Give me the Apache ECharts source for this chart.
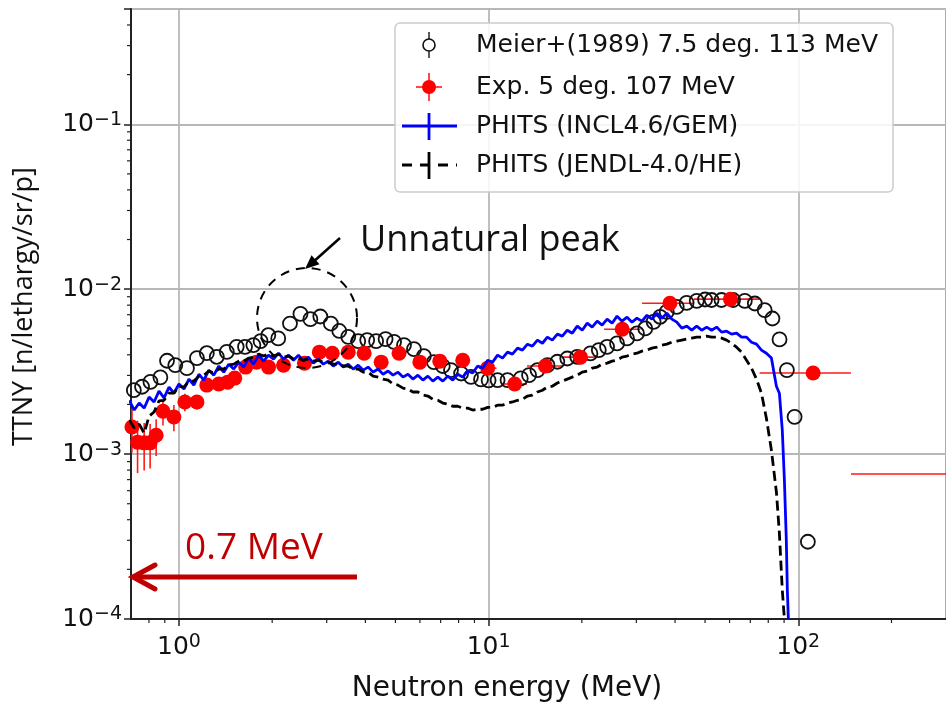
<!DOCTYPE html>
<html lang="en" style="height: 100%">
<head>
<meta charset="utf-8">
<title>TTNY neutron spectrum</title>
</head>
<body style="height: 100%; margin: 0; background: #fff">
<div id="container" style="width: 946px; height: 710px"></div>
<script type="text/javascript" src="https://cdn.jsdelivr.net/npm/echarts/dist/echarts.min.js"></script>
<script type="text/javascript">
// Meier+(1989) 7.5 deg, 113 MeV  (open circles)
var meierE = [0.715, 0.760, 0.809, 0.871, 0.915, 0.973, 1.061, 1.143, 1.230, 1.325, 1.427, 1.536, 1.634, 1.739, 1.835,
    1.943, 2.092, 2.283, 2.468, 2.657, 2.861, 3.093, 3.294, 3.522, 3.792, 4.054, 4.332, 4.648, 4.950, 5.33,
    5.74, 6.18, 6.66, 7.11, 7.56, 8.15, 8.77, 9.45, 10.0, 10.69, 11.51, 12.70, 13.51, 14.38, 15.49,
    16.67, 17.95, 19.32, 21.32, 22.69, 24.13, 25.99, 27.99, 30.14, 32.05, 34.1, 35.8, 37.6, 40.5, 43.6,
    47.0, 50.0, 52.5, 56.5, 61.6, 67.2, 72.4, 77.9, 82.5, 87.0, 91.9, 97.3, 107.4];
var meierV = [2.44e-3, 2.56e-3, 2.74e-3, 2.92e-3, 3.68e-3, 3.46e-3, 3.32e-3, 3.82e-3, 4.09e-3, 3.89e-3, 4.17e-3, 4.47e-3, 4.47e-3, 4.58e-3, 4.84e-3,
    5.26e-3, 5.03e-3, 6.19e-3, 7.08e-3, 6.58e-3, 6.83e-3, 6.19e-3, 5.58e-3, 5.14e-3, 4.84e-3, 4.91e-3, 4.84e-3, 4.98e-3, 4.79e-3, 4.58e-3,
    4.33e-3, 3.93e-3, 3.61e-3, 3.42e-3, 3.23e-3, 3.08e-3, 2.94e-3, 2.84e-3, 2.80e-3, 2.81e-3, 2.81e-3, 2.88e-3, 3.01e-3, 3.23e-3, 3.46e-3,
    3.63e-3, 3.80e-3, 3.89e-3, 4.08e-3, 4.27e-3, 4.47e-3, 4.69e-3, 5.03e-3, 5.39e-3, 5.78e-3, 6.34e-3, 6.80e-3, 7.28e-3, 7.81e-3, 8.26e-3,
    8.49e-3, 8.66e-3, 8.60e-3, 8.60e-3, 8.60e-3, 8.49e-3, 8.19e-3, 7.46e-3, 6.64e-3, 4.96e-3, 3.23e-3, 1.68e-3, 2.94e-4];

// Exp. 5 deg, 107 MeV  (red points, energy bin edges and relative error)
var expE = [0.705, 0.735, 0.772, 0.807, 0.844, 0.888, 0.963, 1.045, 1.143, 1.230, 1.345, 1.437, 1.514, 1.642, 1.781, 1.947, 2.176, 2.543,
    2.841, 3.127, 3.521, 3.963, 4.497, 5.137, 5.998, 6.955, 8.25, 9.93, 12.14, 15.25, 19.8, 27.0, 38.5, 60.4, 111.7, 310];
var expV = [1.46e-3, 1.18e-3, 1.17e-3, 1.17e-3, 1.30e-3, 1.82e-3, 1.68e-3, 2.07e-3, 2.07e-3, 2.62e-3, 2.66e-3, 2.73e-3, 2.89e-3, 3.37e-3, 3.61e-3, 3.37e-3, 3.46e-3, 3.56e-3,
    4.15e-3, 4.09e-3, 4.15e-3, 4.09e-3, 3.61e-3, 4.09e-3, 3.61e-3, 3.66e-3, 3.71e-3, 3.32e-3, 2.66e-3, 3.42e-3, 3.87e-3, 5.72e-3, 8.22e-3, 8.70e-3, 3.10e-3, 7.57e-4];
var expLo = [0.69, 0.72, 0.755, 0.79, 0.825, 0.87, 0.945, 1.02, 1.12, 1.20, 1.31, 1.40, 1.48, 1.60, 1.74, 1.90, 2.12, 2.48,
    2.77, 3.05, 3.43, 3.86, 4.38, 5.00, 5.80, 6.70, 7.90, 9.30, 11.1, 13.3, 17.3, 23.6, 31.3, 46.0, 75.0, 148];
var expHi = [0.72, 0.75, 0.79, 0.825, 0.865, 0.91, 0.985, 1.07, 1.17, 1.26, 1.38, 1.47, 1.55, 1.68, 1.82, 1.99, 2.23, 2.60,
    2.91, 3.20, 3.61, 4.06, 4.61, 5.27, 6.20, 7.20, 8.60, 10.6, 13.3, 17.3, 22.4, 30.9, 45.9, 75.0, 148, 650];
var expErr = [0.30, 0.35, 0.32, 0.30, 0.25, 0.18, 0.18, 0.12, 0.10, 0.08, 0.08, 0.07, 0.07, 0.06, 0.06, 0.06, 0.05, 0.05,
    0.05, 0.05, 0.05, 0.05, 0.05, 0.05, 0.05, 0.05, 0.05, 0.05, 0.05, 0.04, 0.04, 0.04, 0.04, 0.04, 0.05, 0.05];

// PHITS energy grid (MeV) shared by both calculations
var phitsE = [0.691, 0.717, 0.744, 0.772, 0.801, 0.831, 0.862, 0.895, 0.929, 0.963,
    1.000, 1.038, 1.077, 1.117, 1.160, 1.203, 1.249, 1.296, 1.345, 1.395,
    1.448, 1.503, 1.559, 1.618, 1.679, 1.742, 1.808, 1.876, 1.947, 2.020,
    2.097, 2.176, 2.258, 2.343, 2.431, 2.523, 2.618, 2.716, 2.819, 2.925,
    3.036, 3.150, 3.269, 3.392, 3.520, 3.653, 3.791, 3.933, 4.082, 4.236,
    4.396, 4.561, 4.734, 4.912, 5.098, 5.290, 5.490, 5.696, 5.911, 6.134,
    6.366, 6.606, 6.855, 7.113, 7.382, 7.660, 7.950, 8.249, 8.561, 8.883,
    9.219, 9.566, 9.93, 10.30, 10.69, 11.09, 11.51, 11.94, 12.40, 12.86,
    13.35, 13.85, 14.38, 14.92, 15.48, 16.06, 16.67, 17.30, 17.95, 18.63,
    19.33, 20.06, 20.82, 21.60, 22.42, 23.26, 24.14, 25.05, 25.99, 26.97,
    27.99, 29.04, 30.14, 31.27, 32.46, 33.68, 34.95, 36.27, 37.64, 39.05,
    40.53, 42.05, 43.64, 45.28, 46.99, 48.76, 50.61, 52.51, 54.50, 56.55,
    58.69, 60.90, 63.20, 65.58, 68.06, 70.62, 73.30, 76.05, 78.90, 81.9,
    85.0, 86.9, 88.8, 90.2, 91.5, 92.2, 92.9];
// PHITS (INCL4.6/GEM), units of 1e-3
var inclV = [2.12, 1.85, 2.04, 1.90, 2.22, 2.07, 2.41, 2.19, 2.55, 2.34,
    2.66, 2.48, 2.85, 2.62, 3.05, 2.81, 3.23, 3.01, 3.42, 3.14,
    3.51, 3.28, 3.61, 3.37, 3.82, 3.51, 3.98, 3.66, 3.98, 3.77,
    4.09, 3.77, 3.98, 3.71, 3.98, 3.66, 3.87, 3.56, 3.77, 3.51,
    3.66, 3.42, 3.61, 3.37, 3.51, 3.28, 3.46, 3.23, 3.37, 3.14,
    3.28, 3.05, 3.19, 3.01, 3.14, 2.93, 3.05, 2.85, 3.01, 2.81,
    2.97, 2.77, 2.93, 2.77, 2.97, 2.81, 3.05, 2.93, 3.19, 3.10,
    3.42, 3.32, 3.71, 3.61, 3.98, 3.82, 4.15, 4.04, 4.39, 4.27,
    4.64, 4.51, 4.91, 4.70, 5.12, 4.91, 5.34, 5.19, 5.64, 5.41,
    5.97, 5.64, 6.22, 5.89, 6.40, 6.05, 6.58, 6.22, 6.86, 6.40,
    6.76, 6.31, 6.67, 6.40, 6.95, 6.58, 7.15, 6.67, 7.15, 6.58,
    6.31, 5.80, 5.97, 5.64, 5.97, 5.64, 5.89, 5.64, 5.89, 5.49,
    5.56, 5.34, 5.41, 5.12, 5.12, 4.77, 4.64, 4.27, 4.09, 3.82,
    2.58, 2.34, 1.40, 0.696, 0.301, 0.150, 0.100];
// PHITS (JENDL-4.0/HE), units of 1e-3
var jendlV = [1.61, 1.44, 1.52, 1.34, 1.70, 1.80, 2.10, 2.12, 2.34, 2.34,
    2.58, 2.55, 2.77, 2.77, 2.97, 3.01, 3.19, 3.10, 3.28, 3.28,
    3.46, 3.51, 3.66, 3.66, 3.82, 3.87, 4.04, 3.93, 4.04, 3.93,
    4.04, 3.87, 3.93, 3.77, 3.82, 3.71, 3.77, 3.66, 3.71, 3.61,
    3.61, 3.51, 3.51, 3.42, 3.42, 3.28, 3.28, 3.14, 3.14, 2.97,
    2.93, 2.85, 2.81, 2.66, 2.62, 2.51, 2.48, 2.38, 2.38, 2.28,
    2.25, 2.15, 2.12, 2.04, 2.01, 1.95, 1.95, 1.90, 1.90, 1.85,
    1.87, 1.87, 1.92, 1.92, 1.98, 1.98, 2.04, 2.07, 2.12, 2.15,
    2.25, 2.28, 2.38, 2.44, 2.55, 2.58, 2.70, 2.77, 2.85, 2.93,
    3.01, 3.14, 3.19, 3.32, 3.37, 3.51, 3.56, 3.66, 3.71, 3.87,
    3.93, 4.04, 4.09, 4.21, 4.27, 4.39, 4.45, 4.58, 4.64, 4.77,
    4.84, 4.91, 4.98, 5.05, 5.12, 5.12, 5.19, 5.12, 5.12, 5.05,
    4.91, 4.70, 4.45, 4.15, 3.71, 3.32, 2.85, 2.34, 1.65, 1.057,
    0.588, 0.332, 0.150, 0.100, null, null, null];

var xMinorTicks = [0.8, 0.9, 2, 3, 4, 5, 6, 7, 8, 9, 20, 30, 40, 50, 60, 70, 80, 90, 200];
var yMinorTicks = [2e-4, 3e-4, 4e-4, 5e-4, 6e-4, 7e-4, 8e-4, 9e-4, 2e-3, 3e-3, 4e-3, 5e-3, 6e-3, 7e-3, 8e-3, 9e-3,
    0.02, 0.03, 0.04, 0.05, 0.06, 0.07, 0.08, 0.09, 0.2, 0.3, 0.4];

var legendNames = ['Meier+(1989) 7.5 deg. 113 MeV', 'Exp. 5 deg. 107 MeV', 'PHITS (INCL4.6/GEM)', 'PHITS (JENDL-4.0/HE)'];

var dom = document.getElementById('container');
var myChart = echarts.init(dom);

function pairs(xs, ys, scale) {
    return xs.map(function (x, i) { return [x, ys[i] == null ? null : ys[i] * scale]; });
}

function powLabel(v) {
    var lg = Math.log10(v);
    var e = Math.round(lg);
    if (Math.abs(lg - e) > 1e-6) return '';
    return '{b|10}{s|' + (e < 0 ? '\u2212' + (-e) : e) + '}';
}

var richLabel = {
    b: {fontSize: 25, fontFamily: 'DejaVu Sans', color: '#111', lineHeight: 28},
    s: {fontSize: 19, fontFamily: 'DejaVu Sans', color: '#111', lineHeight: 19, verticalAlign: 'top'}
};

var tickStyle = {color: '#222', width: 1.5};
var legendFont = '25px "DejaVu Sans"';

option = {
    backgroundColor: '#fff',
    animation: false,
    textStyle: {fontFamily: 'DejaVu Sans'},
    grid: {left: 131, top: 9, right: -4, bottom: 91, show: true, borderColor: '#222', borderWidth: 2, containLabel: false},
    xAxis: {
        type: 'log', logBase: 10, min: 0.7, max: 300,
        name: 'Neutron energy (MeV)', nameLocation: 'middle', nameGap: 56,
        nameTextStyle: {fontSize: 28, color: '#111', fontFamily: 'DejaVu Sans', padding: [0, 63, 0, 0]},
        axisLine: {show: true, lineStyle: {color: '#222', width: 2}},
        axisTick: {show: true, length: 7, lineStyle: tickStyle},
        axisLabel: {formatter: powLabel, rich: richLabel, margin: 14, showMinLabel: false, showMaxLabel: false},
        splitLine: {show: true, lineStyle: {color: '#b8b8b8', width: 1.8}}
    },
    yAxis: {
        type: 'log', logBase: 10, min: 1e-4, max: 0.5,
        name: 'TTNY [n/lethargy/sr/p]', nameLocation: 'middle', nameRotate: 90, nameGap: 93,
        nameTextStyle: {fontSize: 27, color: '#111', fontFamily: 'Open Sans', padding: [0, 0, 0, 15]},
        axisLine: {show: true, lineStyle: {color: '#222', width: 2}},
        axisTick: {show: true, length: 7, lineStyle: tickStyle},
        axisLabel: {formatter: powLabel, rich: richLabel, margin: 9},
        splitLine: {show: true, lineStyle: {color: '#b8b8b8', width: 1.8}}
    },
    series: [
        {
            name: legendNames[0], type: 'scatter', symbol: 'circle', symbolSize: 14,
            itemStyle: {color: 'rgba(0,0,0,0)', borderColor: '#111', borderWidth: 1.8, opacity: 1},
            data: pairs(meierE, meierV, 1)
        },
        {
            name: 'exp-errors', type: 'custom', clip: true, silent: true,
            data: expE.map(function (e, i) {
                return [e, expV[i], expLo[i], expHi[i], expV[i] * (1 - expErr[i]), expV[i] * (1 + expErr[i])];
            }),
            encode: {x: [0, 2, 3], y: [1, 4, 5]},
            renderItem: function (params, api) {
                var c = api.coord([api.value(0), api.value(1)]);
                var l = api.coord([api.value(2), api.value(1)]);
                var r = api.coord([api.value(3), api.value(1)]);
                var lo = api.coord([api.value(0), api.value(4)]);
                var hi = api.coord([api.value(0), api.value(5)]);
                var st = {stroke: '#ff1a1a', lineWidth: 1.6};
                return {type: 'group', children: [
                    {type: 'line', shape: {x1: l[0], y1: c[1], x2: r[0], y2: c[1]}, style: st},
                    {type: 'line', shape: {x1: c[0], y1: lo[1], x2: c[0], y2: hi[1]}, style: st}
                ]};
            }
        },
        {
            name: legendNames[1], type: 'scatter', symbol: 'circle', symbolSize: 15,
            itemStyle: {color: '#ff0000', opacity: 1},
            data: pairs(expE, expV, 1)
        },
        {
            name: legendNames[2], type: 'line', showSymbol: false, symbol: 'none',
            lineStyle: {color: '#0000ff', width: 2.8},
            data: pairs(phitsE, inclV, 1e-3)
        },
        {
            name: legendNames[3], type: 'line', showSymbol: false, symbol: 'none',
            lineStyle: {color: '#000', width: 2.8, type: [10, 5]},
            data: pairs(phitsE, jendlV, 1e-3)
        },
        {
            name: 'x-minor', type: 'custom', clip: false, silent: true,
            data: xMinorTicks.map(function (v) { return [v, 1e-4]; }),
            renderItem: function (params, api) {
                var p = api.coord([api.value(0), api.value(1)]);
                return {type: 'line', shape: {x1: p[0], y1: p[1], x2: p[0], y2: p[1] + 4}, style: {stroke: '#222', lineWidth: 1.2}};
            }
        },
        {
            name: 'y-minor', type: 'custom', clip: false, silent: true,
            data: yMinorTicks.map(function (v) { return [0.7, v]; }),
            renderItem: function (params, api) {
                var p = api.coord([api.value(0), api.value(1)]);
                return {type: 'line', shape: {x1: p[0] - 4, y1: p[1], x2: p[0], y2: p[1]}, style: {stroke: '#222', lineWidth: 1.2}};
            }
        }
    ],
    graphic: [
        // legend box
        {type: 'rect', z: 100, shape: {x: 395, y: 23, width: 498, height: 169, r: 5},
            style: {fill: 'rgba(255,255,255,0.85)', stroke: '#cccccc', lineWidth: 1.5}},
        {type: 'line', z: 101, shape: {x1: 429, y1: 32, x2: 429, y2: 58}, style: {stroke: '#222', lineWidth: 1.5}},
        {type: 'circle', z: 102, shape: {cx: 429, cy: 45, r: 6}, style: {fill: '#fff', stroke: '#111', lineWidth: 1.6}},
        {type: 'line', z: 101, shape: {x1: 416, y1: 87, x2: 442, y2: 87}, style: {stroke: '#ff1a1a', lineWidth: 1.6}},
        {type: 'line', z: 101, shape: {x1: 429, y1: 73, x2: 429, y2: 101}, style: {stroke: '#ff1a1a', lineWidth: 1.6}},
        {type: 'circle', z: 102, shape: {cx: 429, cy: 87, r: 7}, style: {fill: '#ff0000'}},
        {type: 'line', z: 101, shape: {x1: 402, y1: 126, x2: 457, y2: 126}, style: {stroke: '#0000ff', lineWidth: 2.8}},
        {type: 'line', z: 101, shape: {x1: 429, y1: 113, x2: 429, y2: 140}, style: {stroke: '#0000ff', lineWidth: 2.8}},
        {type: 'line', z: 101, shape: {x1: 402, y1: 165, x2: 457, y2: 165}, style: {stroke: '#000', lineWidth: 2.8, lineDash: [10, 8]}},
        {type: 'line', z: 101, shape: {x1: 429, y1: 152, x2: 429, y2: 179}, style: {stroke: '#000', lineWidth: 2.8}},
        {type: 'text', z: 102, x: 476, y: 45, style: {text: legendNames[0], font: legendFont, fill: '#111', verticalAlign: 'middle'}},
        {type: 'text', z: 102, x: 476, y: 87, style: {text: legendNames[1], font: legendFont, fill: '#111', verticalAlign: 'middle'}},
        {type: 'text', z: 102, x: 476, y: 126, style: {text: legendNames[2], font: legendFont, fill: '#111', verticalAlign: 'middle'}},
        {type: 'text', z: 102, x: 476, y: 165, style: {text: legendNames[3], font: legendFont, fill: '#111', verticalAlign: 'middle'}},
        // "Unnatural peak" annotation
        {type: 'circle', z: 90, shape: {cx: 307, cy: 318, r: 50}, style: {fill: 'none', stroke: '#000', lineWidth: 2, lineDash: [9, 7]}},
        {type: 'line', z: 90, shape: {x1: 340, y1: 238, x2: 312, y2: 263}, style: {stroke: '#000', lineWidth: 2.5}},
        {type: 'polygon', z: 90, shape: {points: [[305, 269], [319.5, 264.2], [311.5, 255.2]]}, style: {fill: '#000'}},
        {type: 'text', z: 90, x: 360, y: 241, style: {text: 'Unnatural peak', font: '36px "Open Sans"', fill: '#111', verticalAlign: 'middle'}},
        // 0.7 MeV marker
        {type: 'line', z: 90, shape: {x1: 357, y1: 577, x2: 134, y2: 577}, style: {stroke: '#c00000', lineWidth: 5}},
        {type: 'polyline', z: 90, shape: {points: [[155, 565], [133, 577], [155, 589]]}, style: {stroke: '#c00000', lineWidth: 5, lineCap: 'round', lineJoin: 'miter'}},
        {type: 'text', z: 90, x: 185, y: 548, style: {text: '0.7 MeV', font: '37px "Open Sans"', fill: '#c00000', verticalAlign: 'middle'}}
    ]
};

if (option && typeof option === 'object') {
    myChart.setOption(option);
}

window.addEventListener('resize', myChart.resize);
</script>
</body>
</html>
